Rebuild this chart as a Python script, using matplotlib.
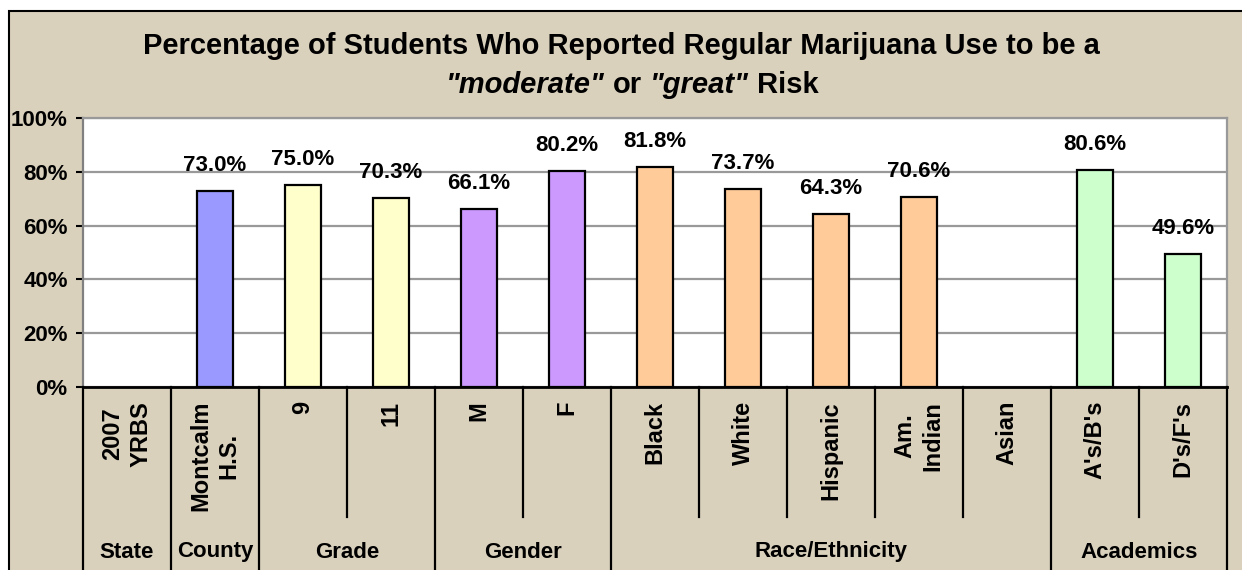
import matplotlib
matplotlib.use("Agg")
import matplotlib.pyplot as plt
import matplotlib.transforms as mtrans
from matplotlib.patches import Rectangle

plt.rcParams['font.family'] = ['Liberation Sans', 'DejaVu Sans']

# ---- data ----
categories = ['2007\nYRBS', 'Montcalm\nH.S.', '9', '11', 'M', 'F', 'Black', 'White',
              'Hispanic', 'Am.\nIndian', 'Asian', "A's/B's", "D's/F's"]
values = [None, 73.0, 75.0, 70.3, 66.1, 80.2, 81.8, 73.7, 64.3, 70.6, None, 80.6, 49.6]
groups = ['State', 'County', 'Grade', 'Gender', 'Race/Ethnicity', 'Academics']
group_sizes = [1, 1, 2, 2, 5, 2]
group_colors = ['#9999FF', '#9999FF', '#FFFFCC', '#CC99FF', '#FFCC99', '#CCFFCC']
yticks = [0, 20, 40, 60, 80, 100]
ytick_labels = ['0%', '20%', '40%', '60%', '80%', '100%']

W, H = 1242, 570
fig = plt.figure(figsize=(W / 100, H / 100), dpi=100, facecolor='white')

# beige background with black frame
bg = Rectangle((9 / W, -0.05), 1.1, 1 - 11 / H + 0.05, transform=fig.transFigure,
               facecolor='#DAD1BD', edgecolor='black', linewidth=1.5, zorder=-10)
fig.patches.append(bg)

ax = fig.add_axes([83 / W, 1 - 387 / H, (1227 - 83) / W, (387 - 118) / H])
ax.set_zorder(1)
ax.set_facecolor('white')

bar_colors = []
for g, n in zip(group_colors, group_sizes):
    bar_colors += [g] * n

xs = list(range(len(categories)))
for x, v, c in zip(xs, values, bar_colors):
    if v is None:
        continue
    ax.bar(x, v, width=0.4, color=c, edgecolor='black', linewidth=1.6, zorder=3)
    ax.annotate(f'{v:.1f}%', (x, v), xytext=(0, 15), textcoords='offset pixels',
                ha='center', va='bottom', fontsize=16, fontweight='bold', zorder=4)

ax.set_xlim(-0.5, len(categories) - 0.5)
ax.set_ylim(0, 100)
ax.set_yticks(yticks)
ax.set_yticklabels(ytick_labels, fontsize=16, fontweight='bold')
ax.tick_params(axis='y', direction='out', length=5, width=1.5, pad=6, colors='black')
ax.yaxis.grid(True, color='#999999', linewidth=1.6, zorder=1)
ax.set_axisbelow(True)

ax.set_xticks(xs)
ax.set_xticklabels(categories, rotation=90, fontsize=17, fontweight='bold',
                   va='top', ha='center', multialignment='center', linespacing=1.3)
ax.tick_params(axis='x', length=0, pad=10)

for s in ['top', 'right']:
    ax.spines[s].set_color('#999999')
    ax.spines[s].set_linewidth(1.6)
ax.spines['left'].set_color('#808080')
ax.spines['left'].set_linewidth(1.6)
ax.spines['bottom'].set_color('black')
ax.spines['bottom'].set_linewidth(2.0)

# category table separators below the axis
trans = mtrans.blended_transform_factory(ax.transData, fig.transFigure)
y_axis = 1 - 387 / H
y_short = 1 - 517 / H
boundaries = [0]
for n in group_sizes:
    boundaries.append(boundaries[-1] + n)
for i in range(len(categories) + 1):
    xb = i - 0.5
    y_end = -0.02 if i in boundaries else y_short
    ax.plot([xb, xb], [y_axis, y_end], transform=trans, color='black',
            linewidth=1.6, clip_on=False, zorder=5)

for g, a, b in zip(groups, boundaries[:-1], boundaries[1:]):
    xc = (a + b - 1) / 2
    ax.text(xc, 1 - 552 / H, g, transform=trans, ha='center', va='center',
            fontsize=16, fontweight='bold')

# title
TS = 21
fig.text(0.5, 1 - 46 / H,
         'Percentage of Students Who Reported Regular Marijuana Use to be a',
         ha='center', va='center', fontsize=TS, fontweight='bold')

pieces = [('"moderate"', 'italic'), ('or', 'normal'), ('"great"', 'italic'), ('Risk', 'normal')]
renderer = fig.canvas.get_renderer()
probe1 = fig.text(0, 0, 'a a', fontsize=TS, fontweight='bold')
probe2 = fig.text(0, 0, 'aa', fontsize=TS, fontweight='bold')
space_w = probe1.get_window_extent(renderer).width - probe2.get_window_extent(renderer).width
probe1.remove()
probe2.remove()
objs = []
widths = []
for txt, st in pieces:
    t = fig.text(0, 1 - 85 / H, txt, fontsize=TS, fontweight='bold', style=st,
                 ha='left', va='center')
    objs.append(t)
    widths.append(t.get_window_extent(renderer).width)
total = sum(widths) + space_w * (len(pieces) - 1)
x0 = 632 - total / 2
for t, w in zip(objs, widths):
    t.set_x(x0 / W)
    x0 += w + space_w

fig.savefig('out.png', dpi=100, facecolor='white')
